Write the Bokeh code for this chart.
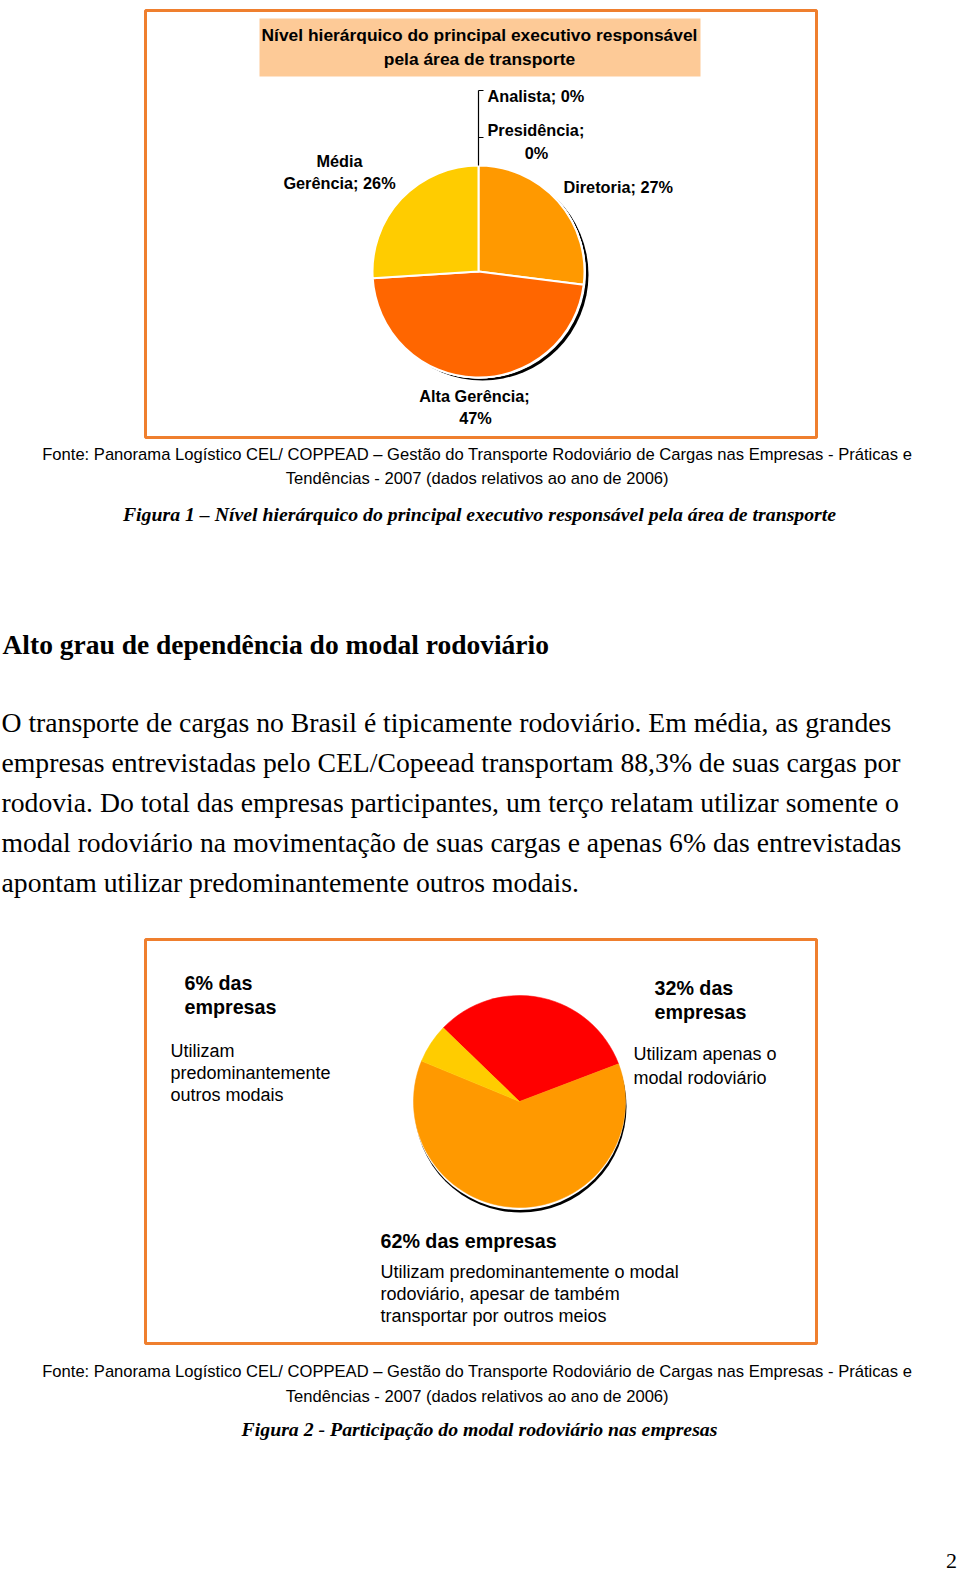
import math
from bokeh.plotting import figure
from bokeh.models import ColumnDataSource
from bokeh.core.properties import value
from bokeh.embed import file_html
from bokeh.resources import INLINE

W, H = 960, 1575

# ---------------- data ----------------
fig1_title = ["Nível hierárquico do principal executivo responsável", "pela área de transporte"]
fig1_labels = ["Analista", "Presidência", "Diretoria", "Alta Gerência", "Média Gerência"]
fig1_values = [0, 0, 27, 47, 26]
fig1_colors = ["#3366CC", "#993366", "#FF9900", "#FF6600", "#FFCC00"]

fig2_labels = ["Apenas rodoviário", "Predominantemente rodoviário", "Predominantemente outros modais"]
fig2_values = [32, 62, 6]
fig2_colors = ["#FF0000", "#FF9900", "#FFCC00"]

source_lines = ["Fonte: Panorama Logístico CEL/ COPPEAD – Gestão do Transporte Rodoviário de Cargas nas Empresas -  Práticas e",
                "Tendências -  2007 (dados relativos ao ano de 2006)"]
caption1 = "Figura 1 – Nível hierárquico do principal executivo responsável pela área de transporte"
caption2 = "Figura 2 - Participação do modal rodoviário nas empresas"
heading = "Alto grau de dependência do modal rodoviário"
paragraph = ["O transporte de cargas no Brasil é tipicamente rodoviário. Em média, as grandes",
             "empresas entrevistadas pelo CEL/Copeead transportam 88,3% de suas cargas por",
             "rodovia. Do total das empresas participantes, um terço relatam utilizar somente o",
             "modal rodoviário na movimentação de suas cargas e apenas 6% das entrevistadas",
             "apontam utilizar predominantemente outros modais."]
fig2_bold = [["6% das", "empresas"], ["32% das", "empresas"], ["62% das empresas"]]
fig2_desc = [["Utilizam", "predominantemente", "outros modais"],
             ["Utilizam apenas o", "modal rodoviário"],
             ["Utilizam predominantemente o modal", "rodoviário, apesar de também", "transportar por outros meios"]]
page_number = "2"

# ---------------- helpers ----------------
def Y(y):
    return H - y

SANS = "Liberation Sans"
SERIF = "Liberation Serif"
ORANGE_BORDER = "#EF7F2E"

p = figure(width=W, height=H, x_range=(0, W), y_range=(0, H),
           output_backend="svg", toolbar_location=None, min_border=0)
p.axis.visible = False
p.grid.visible = False
p.outline_line_color = None
p.background_fill_color = "white"
p.border_fill_color = "white"


def txt(x, y, s, size, font=SANS, style="normal", align="left", color="black", baseline="middle"):
    p.text(x=[x], y=[Y(y)], text=[s], text_font=value(font), text_font_size=f"{size}px",
           text_font_style=style, text_align=align, text_baseline=baseline, text_color=color)


def pie_angles(vals, start_deg):
    total = float(sum(vals))
    starts, ends = [], []
    cum = 0.0
    a0 = math.radians(start_deg)
    for v in vals:
        e = a0 - cum / total * 2 * math.pi
        cum += v
        s = a0 - cum / total * 2 * math.pi
        starts.append(s)
        ends.append(e)
    return starts, ends

# ---------------- Figure 1 ----------------
p.quad(left=[145], right=[816], top=[Y(10)], bottom=[Y(437)], fill_color=None,
       line_color=ORANGE_BORDER, line_width=3)
p.quad(left=[259], right=[700], top=[Y(18)], bottom=[Y(76)], fill_color="#FDCA97", line_color=None)
txt(479, 34.5, fig1_title[0], 17.4, style="bold", align="center")
txt(479, 58, fig1_title[1], 17.4, style="bold", align="center")

cx1, cy1, r1 = 478, 271, 106
p.circle(x=[cx1 + 4], y=[Y(cy1 + 3)], radius=r1, fill_color="black", line_color=None)
p.circle(x=[cx1 + 1.5], y=[Y(cy1 + 1)], radius=r1, fill_color="white", line_color=None)
s1, e1 = pie_angles(fig1_values, 90)
src1 = ColumnDataSource(dict(start=s1, end=e1, color=fig1_colors, label=fig1_labels))
p.wedge(x=cx1, y=Y(cy1), radius=r1, start_angle="start", end_angle="end", direction="anticlock",
        fill_color="color", line_color="white", line_width=2, source=src1)

p.line(x=[cx1, cx1], y=[Y(cy1 - r1), Y(90)], line_color="black", line_width=1.2)
p.line(x=[cx1, cx1 + 5], y=[Y(90), Y(90)], line_color="black", line_width=1.2)
p.line(x=[cx1, cx1 + 5], y=[Y(137), Y(137)], line_color="black", line_width=1.2)

lab = [f"{l}; {v}%" for l, v in zip(fig1_labels, fig1_values)]
LS = 16.3
txt(487, 95, lab[0], LS, style="bold")
txt(487, 129, lab[1].split(" ")[0], LS, style="bold")
txt(536, 152, lab[1].split(" ")[1], LS, style="bold", align="center")
txt(563, 186, lab[2], LS, style="bold")
txt(474, 395, lab[3].rsplit(" ", 1)[0], LS, style="bold", align="center")
txt(475, 417, lab[3].rsplit(" ", 1)[1], LS, style="bold", align="center")
txt(339, 160, lab[4].split(" ", 1)[0], LS, style="bold", align="center")
txt(339, 182, lab[4].split(" ", 1)[1], LS, style="bold", align="center")

txt(479, 454, source_lines[0], 16.6, align="center")
txt(479, 478, source_lines[1], 16.6, align="center")
txt(479, 513, caption1, 19.8, font=SERIF, style="bold italic", align="center")

# ---------------- text block ----------------
txt(2, 644, heading, 27.5, font=SERIF, style="bold")
for i, line in enumerate(paragraph):
    txt(1, 722 + i * 39.9, line, 27.7, font=SERIF)

# ---------------- Figure 2 ----------------
p.quad(left=[145], right=[816], top=[Y(939)], bottom=[Y(1343)], fill_color=None,
       line_color=ORANGE_BORDER, line_width=3)
cx2, cy2, r2 = 519, 1101, 106
p.circle(x=[cx2 + 1], y=[Y(cy2 + 5)], radius=r2, fill_color="black", line_color=None)
p.circle(x=[cx2], y=[Y(cy2 + 2.5)], radius=r2, fill_color="white", line_color=None)
s2, e2 = pie_angles(fig2_values, 136)
src2 = ColumnDataSource(dict(start=s2, end=e2, color=fig2_colors, label=fig2_labels))
p.wedge(x=cx2, y=Y(cy2), radius=r2, start_angle="start", end_angle="end", direction="anticlock",
        fill_color="color", line_color="color", line_width=0.5, source=src2)

bold_pos = [(184, 982, 24.5), (654, 987, 24.5), (380, 1240, 0)]
desc_pos = [(170, 1050, 22), (633, 1053, 24), (380, 1271, 22)]
for (bx, by, bs), lines in zip(bold_pos, fig2_bold):
    for j, l in enumerate(lines):
        txt(bx, by + j * bs, l, 19.7, style="bold")
for (dx, dy, ds), lines in zip(desc_pos, fig2_desc):
    for j, l in enumerate(lines):
        txt(dx, dy + j * ds, l, 18)

txt(479, 1371, source_lines[0], 16.6, align="center")
txt(479, 1396, source_lines[1], 16.6, align="center")
txt(479, 1428, caption2, 19.8, font=SERIF, style="bold italic", align="center")

txt(951, 1560, page_number, 22, font=SERIF, align="center")

open("out.html", "w").write(file_html(p, INLINE))
